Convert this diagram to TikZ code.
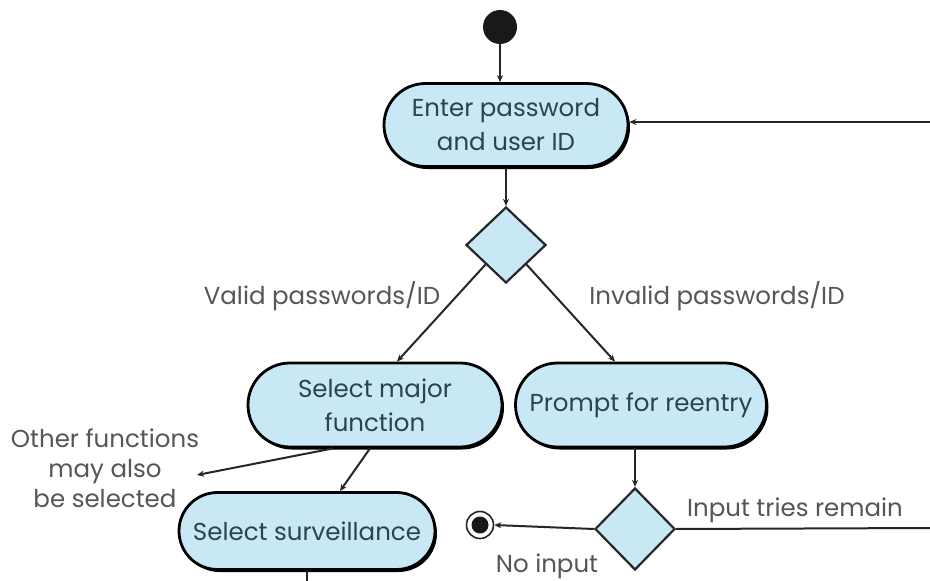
\documentclass[tikz,border=0pt]{standalone}
\usepackage{fontspec}
\setmainfont{Poppins}
\usetikzlibrary{shapes.misc,shapes.geometric,arrows.meta,calc,shadows}
\definecolor{actfill}{RGB}{200,232,246}
\definecolor{acttext}{RGB}{45,65,78}
\definecolor{labtext}{RGB}{85,85,90}
\tikzset{
  act/.style={rounded rectangle, draw=black, line width=2.8pt, fill=actfill,
    text=acttext, align=center, inner xsep=2pt, font=\fontsize{24.5}{34}\selectfont,
    drop shadow={shadow xshift=2pt, shadow yshift=-2.5pt, fill=black, opacity=1}},
  decision/.style={diamond, draw=black!85, line width=2.2pt, fill=actfill, inner sep=0pt},
  lab/.style={text=labtext, font=\fontsize{24.5}{30}\selectfont, align=center},
  conn/.style={draw=black!85, line width=2pt},
  arr/.style={conn, -{Stealth[length=7pt,width=6pt]}}
}
\begin{document}
\begin{tikzpicture}[x=1pt,y=-1pt]
\fill[white] (0,0) rectangle (930,581);
\useasboundingbox (0,0) rectangle (930,581);

% nodes
\node[circle, fill=black!90, minimum size=34pt, inner sep=0pt] (start) at (500,27) {};
\node[act, minimum width=248pt, minimum height=83pt] (enter) at (506,125) {Enter password\\and user ID};
\node[decision, minimum width=80pt, minimum height=76pt] (d1) at (506,245) {};
\node[act, minimum width=258pt, minimum height=84pt] (sel) at (375,405) {Select major\\function};
\node[act, minimum width=255pt, minimum height=84pt] (prompt) at (641,405) {Prompt for reentry};
\node[decision, minimum width=80pt, minimum height=82pt] (d2) at (635,529) {};
\node[act, minimum width=260pt, minimum height=77pt] (surv) at (307,531) {Select surveillance};
\node[circle, draw=black!85, line width=1.6pt, minimum size=27pt, inner sep=0pt, fill=white] (final) at (480,525) {};
\node[circle, fill=black!90, minimum size=17pt, inner sep=0pt] (finalin) at (final) {};

% labels
\node[lab] (lvalid) at (322,296) {Valid passwords/ID};
\node[lab] (linvalid) at (717,296) {Invalid passwords/ID};
\node[lab] (lother) at (105,468) {Other functions\\may also\\be selected};
\node[lab] (ltries) at (795,510) {Input tries remain};
\node[lab] (lnoinput) at (547,566) {No input};

% free ends
\coordinate (r1) at (930,528);
\coordinate (r2) at (930,122);
\coordinate (othertip) at (197,475);
\coordinate (bottom) at (307,581);

% connectors
\draw[arr] (start) -- (start |- enter.north);
\draw[arr] (enter.south) -- (d1.north);
\draw[arr] (d1.south west) -- ([xshift=22pt]sel.north);
\draw[arr] (d1.south east) -- ([xshift=-26pt]prompt.north);
\draw[arr] (d2.north |- prompt.south) -- (d2.north);
\draw[arr] (d2.west) -- (final.east);
\draw[conn] (d2.east) -- (r1);
\draw[arr] (r2) -- (enter.east |- r2);
\draw[arr] ([xshift=-5pt]sel.south) -- ([xshift=33pt]surv.north);
\draw[arr] ([xshift=-42pt]sel.south) -- (othertip);
\draw[conn] (surv.south) -- (bottom);
\end{tikzpicture}
\end{document}
